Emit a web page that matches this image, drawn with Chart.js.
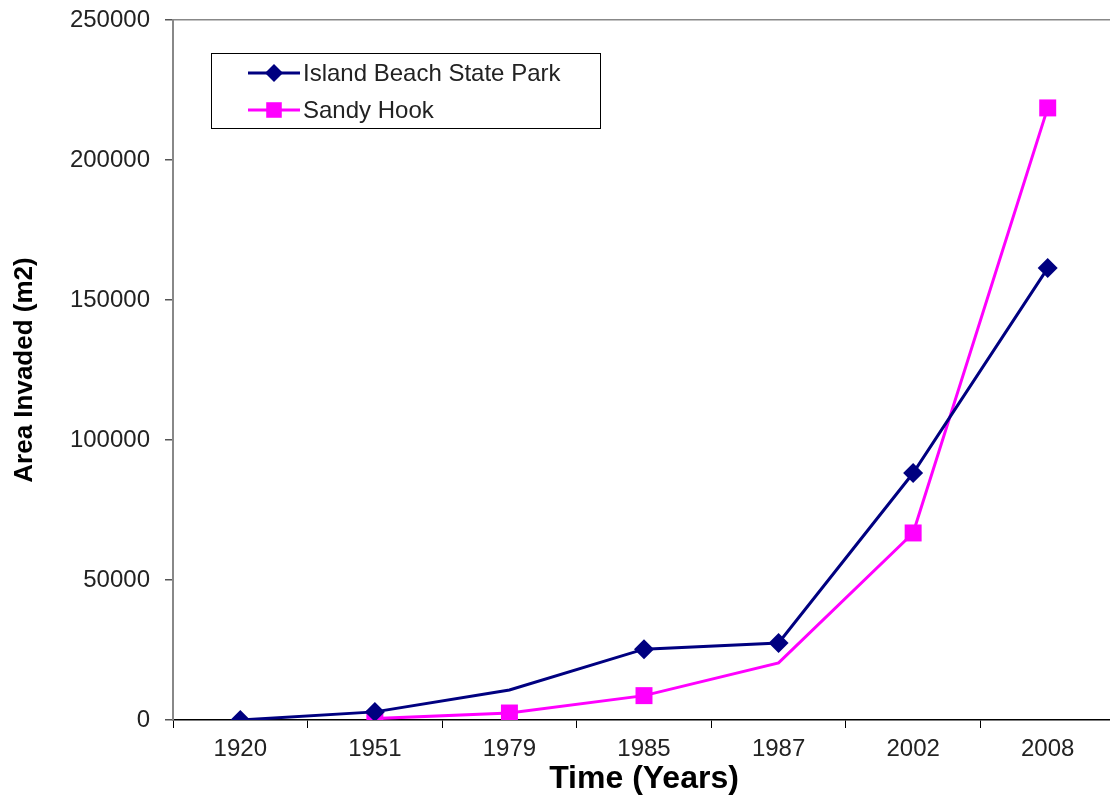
<!DOCTYPE html>
<html>
<head>
<meta charset="utf-8">
<script src="https://cdn.jsdelivr.net/npm/chart.js@4/dist/chart.umd.min.js"></script>
<style>
  html, body { margin: 0; padding: 0; background: #fff; overflow: hidden; }
  #wrap { width: 1127px; height: 798px; position: relative; }
</style>
</head>
<body>
<div id="wrap"><canvas id="c" width="1127" height="798"></canvas></div>
<script>
const categories = ['1920', '1951', '1979', '1985', '1987', '2002', '2008'];
const islandBeach = [0, 2900, 10700, 25300, 27500, 88200, 161400];
const sandyHook = [null, 500, 2500, 8700, 20400, 66800, 218600];
const islandRadius = [10, 10, 0, 10, 10, 10, 10];
const sandyRadius = [12, 12, 12, 12, 0, 12, 12];
const seriesNames = ['Island Beach State Park', 'Sandy Hook'];
const yTicks = [0, 50000, 100000, 150000, 200000, 250000];

const NAVY = '#000080';
const PINK = '#FF00FF';
const FONT = '"Liberation Sans", Arial, sans-serif';

function drawMarker(ctx, style, x, y, r, color) {
  ctx.save();
  ctx.fillStyle = color;
  ctx.beginPath();
  if (style === 'rectRot') {
    ctx.moveTo(x, y - r); ctx.lineTo(x + r, y); ctx.lineTo(x, y + r); ctx.lineTo(x - r, y);
    ctx.closePath();
  } else {
    const s = Math.SQRT1_2 * r;
    ctx.rect(x - s, y - s, 2 * s, 2 * s);
  }
  ctx.fill();
  ctx.restore();
}

const legendBox = {
  id: 'legendBox',
  afterDraw(chart) {
    const ctx = chart.ctx;
    ctx.save();
    ctx.strokeStyle = '#000';
    ctx.lineWidth = 1;
    ctx.fillStyle = '#fff';
    ctx.fillRect(211.5, 53.5, 389, 75);
    ctx.strokeRect(211.5, 53.5, 389, 75);
    const rows = [73, 110];
    chart.data.datasets.forEach((ds, i) => {
      const y = rows[i];
      ctx.strokeStyle = ds.borderColor;
      ctx.lineWidth = 3;
      ctx.beginPath();
      ctx.moveTo(248, y); ctx.lineTo(300, y);
      ctx.stroke();
      drawMarker(ctx, ds.pointStyle, 274, y, ds.pointStyle === 'rect' ? 11 : 9, ds.borderColor);
      ctx.fillStyle = '#222';
      ctx.font = '24px ' + FONT;
      ctx.textBaseline = 'middle';
      ctx.textAlign = 'left';
      ctx.fillText(ds.label, 303, y + 1);
    });
    ctx.restore();
  }
};

new Chart(document.getElementById('c'), {
  type: 'line',
  data: {
    labels: categories,
    datasets: [
      {
        label: seriesNames[0],
        data: islandBeach,
        borderColor: NAVY,
        backgroundColor: NAVY,
        borderWidth: 3,
        pointStyle: 'rectRot',
        pointRadius: islandRadius,
        pointBorderWidth: 0,
        tension: 0
      },
      {
        label: seriesNames[1],
        data: sandyHook,
        borderColor: PINK,
        backgroundColor: PINK,
        borderWidth: 3,
        pointStyle: 'rect',
        pointRadius: sandyRadius,
        pointBorderWidth: 0,
        tension: 0
      }
    ]
  },
  options: {
    responsive: false,
    animation: false,
    devicePixelRatio: 1,
    layout: { padding: { top: 20, left: 0, right: 0, bottom: 0 } },
    plugins: {
      legend: { display: false },
      tooltip: { enabled: false }
    },
    scales: {
      x: {
        type: 'category',
        offset: true,
        grid: {
          offset: true,
          drawOnChartArea: false,
          drawTicks: true,
          tickLength: 8,
          tickColor: '#000'
        },
        border: { color: '#000', width: 1.5 },
        ticks: {
          color: '#222',
          font: { family: FONT, size: 24 },
          padding: 7,
          maxRotation: 0,
          autoSkip: false
        },
        title: {
          display: true,
          text: 'Time (Years)',
          color: '#000',
          font: { family: FONT, size: 32, weight: 'bold' },
          padding: { top: 0, bottom: 0 }
        },
        afterFit(scale) { scale.height = 78; scale.paddingLeft = 0; scale.paddingRight = 0; }
      },
      y: {
        min: 0,
        max: 250000,
        afterBuildTicks(scale) { scale.ticks = yTicks.map(v => ({ value: v })); },
        grid: {
          drawOnChartArea: true,
          color: (c) => (c.tick && c.tick.value === 250000 ? '#888' : 'rgba(0,0,0,0)'),
          tickColor: '#555',
          tickLength: 8,
          lineWidth: 1.5
        },
        border: { color: '#888', width: 2 },
        ticks: {
          color: '#222',
          font: { family: FONT, size: 24 },
          padding: 15,
          callback: (v) => String(v)
        },
        title: {
          display: true,
          text: 'Area Invaded (m2)',
          color: '#000',
          font: { family: FONT, size: 26, weight: 'bold' },
          padding: { top: 9, bottom: 0 }
        },
        afterFit(scale) { scale.width = 173; scale.paddingTop = 0; scale.paddingBottom = 0; }
      }
    }
  },
  plugins: [legendBox]
});
</script>
</body>
</html>
